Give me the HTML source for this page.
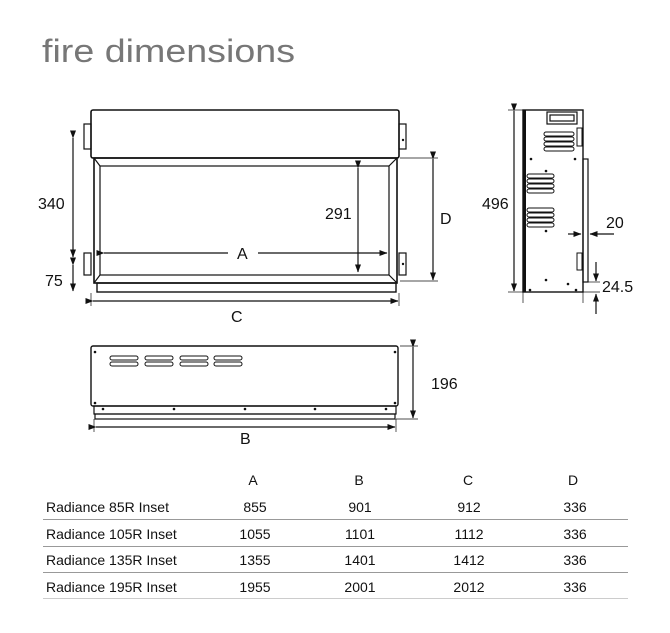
<!DOCTYPE html>
<html><head><meta charset="utf-8"><style>
html,body{margin:0;padding:0;background:#fff;width:670px;height:633px;overflow:hidden}
svg{display:block}
text{font-family:"Liberation Sans",sans-serif;fill:#111}
</style></head><body>
<svg width="670" height="633" viewBox="0 0 670 633" xmlns="http://www.w3.org/2000/svg">
<defs>
<marker id="ar" markerWidth="8" markerHeight="6" refX="7.5" refY="3" orient="auto" markerUnits="userSpaceOnUse"><path d="M0,0 L8,3 L0,6 z" fill="#111"/></marker>
</defs>
<text x="42" y="62" font-size="32" textLength="253" lengthAdjust="spacingAndGlyphs" style="fill:#777;font-weight:normal">fire dimensions</text>

<g fill="none" stroke="#111" stroke-width="1.2">
<rect x="91" y="110" width="308" height="48" rx="2" stroke-width="1.6"/>
<rect x="84" y="124" width="7" height="25"/><rect x="84" y="253" width="7" height="22"/>
<rect x="399" y="124" width="7" height="25"/><rect x="399" y="253" width="7" height="22"/>
<rect x="94" y="158" width="303" height="125" stroke-width="1.6"/>
<rect x="100" y="166" width="289" height="109"/>
<line x1="94" y1="158" x2="100" y2="166"/><line x1="397" y1="158" x2="389" y2="166"/>
<line x1="94" y1="283" x2="100" y2="275"/><line x1="397" y1="283" x2="389" y2="275"/>
<rect x="97" y="283" width="299" height="9" stroke-width="1.4"/>
<line x1="73" y1="138" x2="73" y2="257" marker-start="url(#ar)" marker-end="url(#ar)"/>
<line x1="73" y1="265" x2="73" y2="291" marker-start="url(#ar)" marker-end="url(#ar)"/>
<line x1="93" y1="301" x2="398" y2="301" marker-start="url(#ar)" marker-end="url(#ar)"/>
<line x1="91" y1="293" x2="91" y2="306" stroke-width="0.7"/><line x1="399" y1="293" x2="399" y2="306" stroke-width="0.7"/>
<line x1="104" y1="253" x2="228" y2="253" marker-start="url(#ar)"/>
<line x1="258" y1="253" x2="387" y2="253" marker-end="url(#ar)"/>
<line x1="358" y1="168" x2="358" y2="272" marker-start="url(#ar)" marker-end="url(#ar)"/>
<line x1="433" y1="159" x2="433" y2="280" marker-start="url(#ar)" marker-end="url(#ar)"/>
<line x1="400" y1="158" x2="438" y2="158" stroke-width="0.7"/><line x1="400" y1="281" x2="438" y2="281" stroke-width="0.7"/>

<rect x="523" y="110" width="60" height="182" stroke-width="1.4"/>
<line x1="524.5" y1="110" x2="524.5" y2="292" stroke-width="3"/>
<rect x="583" y="159" width="5" height="123"/>
<rect x="547" y="112" width="30" height="12"/><rect x="550" y="115" width="24" height="6"/>
<g stroke-width="1">
<rect x="544" y="132" width="30" height="4" rx="2"/><rect x="544" y="137" width="30" height="4" rx="2"/><rect x="544" y="142" width="30" height="4" rx="2"/><rect x="544" y="147" width="30" height="4" rx="2"/>
<rect x="527" y="174" width="27" height="4" rx="2"/><rect x="527" y="179" width="27" height="4" rx="2"/><rect x="527" y="184" width="27" height="4" rx="2"/><rect x="527" y="189" width="27" height="4" rx="2"/>
<rect x="527" y="208" width="27" height="4" rx="2"/><rect x="527" y="213" width="27" height="4" rx="2"/><rect x="527" y="218" width="27" height="4" rx="2"/><rect x="527" y="223" width="27" height="4" rx="2"/>
<rect x="577" y="128" width="5" height="18"/><rect x="577" y="253" width="5" height="17"/>
</g>
<line x1="514" y1="111" x2="514" y2="291" marker-start="url(#ar)" marker-end="url(#ar)"/>
<line x1="508" y1="110" x2="523" y2="110" stroke-width="0.7"/><line x1="508" y1="292" x2="523" y2="292" stroke-width="0.7"/>
<line x1="523" y1="292" x2="523" y2="303" stroke-width="0.7"/><line x1="583" y1="292" x2="583" y2="303" stroke-width="0.7"/>
<line x1="568" y1="234" x2="581" y2="234" marker-end="url(#ar)"/>
<line x1="614" y1="234" x2="590" y2="234" marker-end="url(#ar)"/>
<line x1="596" y1="262" x2="596" y2="281" marker-end="url(#ar)"/>
<line x1="596" y1="314" x2="596" y2="294" marker-end="url(#ar)"/>
<line x1="588" y1="282" x2="600" y2="282" stroke-width="0.7"/><line x1="583" y1="292" x2="600" y2="292" stroke-width="0.7"/>

<rect x="91" y="346" width="307" height="60" rx="2" stroke-width="1.4"/>
<rect x="94" y="406" width="302" height="8"/>
<rect x="95" y="414" width="300" height="5"/>
<g stroke-width="1">
<rect x="110" y="356" width="28" height="4" rx="2"/><rect x="110" y="362" width="28" height="4" rx="2"/>
<rect x="145" y="356" width="28" height="4" rx="2"/><rect x="145" y="362" width="28" height="4" rx="2"/>
<rect x="180" y="356" width="28" height="4" rx="2"/><rect x="180" y="362" width="28" height="4" rx="2"/>
<rect x="214" y="356" width="28" height="4" rx="2"/><rect x="214" y="362" width="28" height="4" rx="2"/>
</g>
<line x1="413" y1="347" x2="413" y2="418" marker-start="url(#ar)" marker-end="url(#ar)"/>
<line x1="400" y1="346" x2="418" y2="346" stroke-width="0.7"/><line x1="396" y1="419" x2="418" y2="419" stroke-width="0.7"/>
<line x1="96" y1="427" x2="395" y2="427" marker-start="url(#ar)" marker-end="url(#ar)"/>
<line x1="94" y1="419" x2="94" y2="432" stroke-width="0.7"/><line x1="396" y1="419" x2="396" y2="432" stroke-width="0.7"/>
</g>
<g fill="#111">
<circle cx="95" cy="352" r="1.3"/><circle cx="395" cy="352" r="1.3"/><circle cx="95" cy="403" r="1.3"/><circle cx="395" cy="403" r="1.3"/>
<circle cx="103" cy="409" r="1.3"/><circle cx="174" cy="409" r="1.3"/><circle cx="245" cy="409" r="1.3"/><circle cx="315" cy="409" r="1.3"/><circle cx="386" cy="409" r="1.3"/>
<circle cx="531" cy="159" r="1.3"/><circle cx="575" cy="159" r="1.3"/><circle cx="546" cy="171" r="1.3"/><circle cx="546" cy="231" r="1.3"/>
<circle cx="546" cy="280" r="1.3"/><circle cx="568" cy="284" r="1.3"/><circle cx="530" cy="290" r="1.3"/><circle cx="576" cy="290" r="1.3"/>
<circle cx="403" cy="140" r="1.2"/><circle cx="403" cy="264" r="1.2"/>
</g>

<g font-size="16">
<text x="38" y="209">340</text>
<text x="45" y="286">75</text>
<text x="231" y="322">C</text>
<text x="237" y="259">A</text>
<text x="325" y="219">291</text>
<text x="440" y="224">D</text>
<text x="482" y="209">496</text>
<text x="606" y="228">20</text>
<text x="602" y="292">24.5</text>
<text x="431" y="389">196</text>
<text x="240" y="444">B</text>
</g>

<g font-size="14">
<text x="253" y="485" text-anchor="middle">A</text>
<text x="359" y="485" text-anchor="middle">B</text>
<text x="468" y="485" text-anchor="middle">C</text>
<text x="573" y="485" text-anchor="middle">D</text>
<text x="46" y="512">Radiance 85R Inset</text>
<text x="46" y="539">Radiance 105R Inset</text>
<text x="46" y="565">Radiance 135R Inset</text>
<text x="46" y="592">Radiance 195R Inset</text>
<g text-anchor="middle">
<text x="255" y="512">855</text><text x="360" y="512">901</text><text x="469" y="512">912</text><text x="575" y="512">336</text>
<text x="255" y="539">1055</text><text x="360" y="539">1101</text><text x="469" y="539">1112</text><text x="575" y="539">336</text>
<text x="255" y="565">1355</text><text x="360" y="565">1401</text><text x="469" y="565">1412</text><text x="575" y="565">336</text>
<text x="255" y="592">1955</text><text x="360" y="592">2001</text><text x="469" y="592">2012</text><text x="575" y="592">336</text>
</g>
</g>
<g stroke="#999" stroke-width="1">
<line x1="43" y1="519.5" x2="628" y2="519.5"/>
<line x1="43" y1="546.5" x2="628" y2="546.5"/>
<line x1="43" y1="572.5" x2="628" y2="572.5"/>
<line x1="43" y1="598.5" x2="628" y2="598.5" stroke="#ccc"/>
</g>
</svg>
</body></html>
